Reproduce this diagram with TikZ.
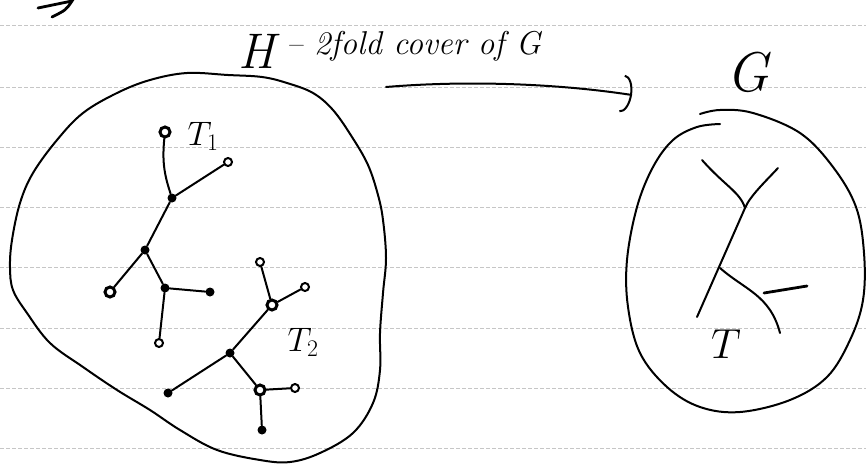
\RequirePackage{fix-cm}
\documentclass[tikz,border=0pt]{standalone}
\usepackage{amsmath, amssymb}
\usepackage{tikz}
\usetikzlibrary{arrows.meta, positioning, calc}

\begin{document}
\begin{tikzpicture}[x=1pt, y=-1pt,
    pen/.style={line width=2pt, line cap=round, line join=round},
    vtx/.style={circle, fill=black, inner sep=0pt, minimum size=9pt},
    hub/.style={circle, draw, fill=white, line width=3pt, inner sep=0pt, minimum size=10pt},
    leaf/.style={circle, draw, fill=white, line width=2pt, inner sep=0pt, minimum size=8pt},
    rule/.style={gray!45, line width=0.6pt, dash pattern=on 4pt off 2pt},
    hand/.style={font=\itshape\fontsize{33}{36}\selectfont}]
  \useasboundingbox (0,0) rectangle (866,463);

  % 罫線
  \foreach \y in {25,87,147,207,267,328,388,448} {
    \draw[rule] (0,\y) -- (866,\y);
  }

  % 左上の => の切れ端
  \draw[line width=2.8pt, line cap=round] (38,8) .. controls (55,4) .. (72,1)
    .. controls (66,10) .. (52,17);

  % 見出し
  \node[hand, anchor=base west, inner sep=0pt] (cap) at (238,54)
    {\raisebox{-14pt}{\fontsize{50}{50}\selectfont H} -- 2fold cover of G};
  \node[font=\itshape\fontsize{56}{56}\selectfont] (gname) at (748,72) {G};

  % 被覆写像の矢印
  \coordinate (ar0) at (386,87);
  \coordinate (ar1) at (632,95);
  \draw[pen, -{Arc Barb[length=10pt, width=38pt, line width=2pt]}]
    (ar0) .. controls (470,80) and (560,84) .. (ar1);

  % H の外形
  \draw[pen] plot[smooth cycle, tension=0.6] coordinates {
    (228,75) (187,73) (150,80) (117,93) (83,113) (57,140) (33,173) (20,203)
    (12,240) (10,267) (13,290) (27,313) (50,343) (83,367) (117,390) (150,410)
    (180,430) (217,450) (260,460) (290,462) (320,453) (353,433) (373,403)
    (380,370) (380,333) (383,293) (386,258) (383,220) (378,195) (368,165)
    (352,137) (333,110) (313,93) (287,83) (262,77)};

  % T1 の木
  \node[hub]  (a1) at (165,132) {};
  \node[leaf] (a2) at (228,162) {};
  \node[vtx]  (a3) at (172,198) {};
  \node[vtx]  (a4) at (145,250) {};
  \node[hub]  (a5) at (110,292) {};
  \node[vtx]  (a6) at (165,288) {};
  \node[vtx]  (a7) at (210,292) {};
  \node[leaf] (a8) at (159,343) {};
  \draw[pen] (a1) to[bend right=12] (a3);
  \foreach \u/\v in {a2/a3, a3/a4, a4/a5, a4/a6, a6/a7, a6/a8} {
    \draw[pen] (\u) -- (\v);
  }
  \node[font=\fontsize{34}{34}\selectfont] (t1) at (203,136) {$T_1$};

  % T2 の木
  \node[leaf] (b1) at (260,262) {};
  \node[hub]  (b2) at (272,305) {};
  \node[leaf] (b3) at (305,287) {};
  \node[vtx]  (b4) at (230,353) {};
  \node[vtx]  (b5) at (168,393) {};
  \node[hub]  (b6) at (260,390) {};
  \node[leaf] (b7) at (295,388) {};
  \node[vtx]  (b8) at (262,430) {};
  \foreach \u/\v in {b1/b2, b2/b3, b2/b4, b4/b5, b4/b6, b6/b7, b6/b8} {
    \draw[pen] (\u) -- (\v);
  }
  \node[font=\fontsize{34}{34}\selectfont] (t2) at (303,342) {$T_2$};

  % G の外形
  \draw[pen] plot[smooth, tension=0.6] coordinates {
    (720,124) (697,127) (673,140) (653,167) (637,207) (627,260) (628,307)
    (640,353) (667,387) (700,407) (740,412) (790,400) (827,377) (850,340)
    (863,300) (864,253) (856,207) (833,167) (800,133) (753,113) (720,110) (700,114)};

  % G の中の木
  \coordinate (gl) at (702,160);
  \coordinate (gr) at (778,168);
  \coordinate (gm) at (745,208);
  \coordinate (gk) at (720,268);
  \coordinate (gb) at (697,317);
  \coordinate (ge) at (780,333);
  \coordinate (gd1) at (764,293);
  \coordinate (gd2) at (807,286);
  \draw[pen] (gl) .. controls (725,186) and (740,192) .. (gm);
  \draw[pen] (gr) .. controls (765,182) and (750,196) .. (gm);
  \draw[pen] (gm) -- (gb);
  \draw[pen] (gk) .. controls (745,290) and (770,295) .. (ge);
  \draw[pen, line width=2.8pt] (gd1) -- (gd2);
  \node[font=\fontsize{42}{42}\selectfont] (tg) at (726,344) {$T$};
\end{tikzpicture}
\end{document}
